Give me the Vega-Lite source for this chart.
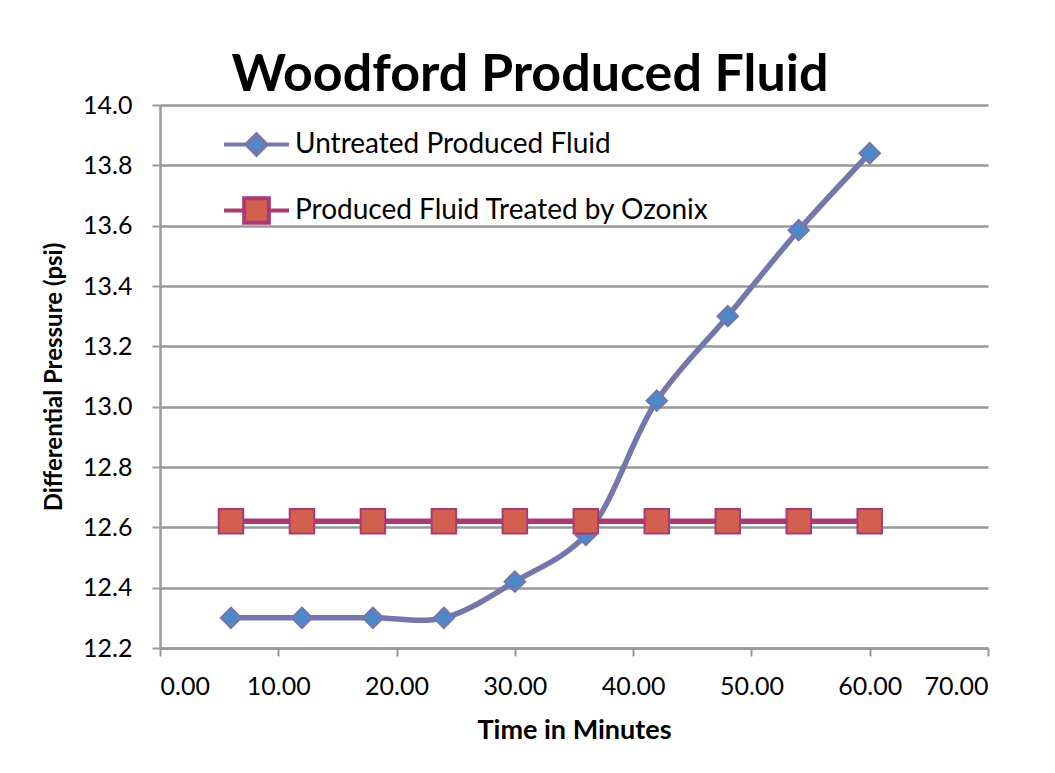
{
  "$schema": "https://vega.github.io/schema/vega-lite/v6.json",
  "width": 828,
  "height": 543,
  "autosize": {"type": "none"},
  "padding": {"left": 160, "top": 105, "right": 67, "bottom": 125},
  "background": "white",
  "title": {
    "text": "Woodford Produced Fluid",
    "font": "Lato",
    "fontSize": 52,
    "fontWeight": "bold",
    "color": "black",
    "anchor": "middle",
    "dx": -44,
    "offset": -9
  },
  "data": {
    "values": [
      {"t": 6, "p": 12.30, "series": "Untreated Produced Fluid"},
      {"t": 12, "p": 12.30, "series": "Untreated Produced Fluid"},
      {"t": 18, "p": 12.30, "series": "Untreated Produced Fluid"},
      {"t": 24, "p": 12.30, "series": "Untreated Produced Fluid"},
      {"t": 30, "p": 12.42, "series": "Untreated Produced Fluid"},
      {"t": 36, "p": 12.575, "series": "Untreated Produced Fluid"},
      {"t": 42, "p": 13.02, "series": "Untreated Produced Fluid"},
      {"t": 48, "p": 13.30, "series": "Untreated Produced Fluid"},
      {"t": 54, "p": 13.585, "series": "Untreated Produced Fluid"},
      {"t": 60, "p": 13.84, "series": "Untreated Produced Fluid"},
      {"t": 6, "p": 12.62, "series": "Produced Fluid Treated by Ozonix"},
      {"t": 12, "p": 12.62, "series": "Produced Fluid Treated by Ozonix"},
      {"t": 18, "p": 12.62, "series": "Produced Fluid Treated by Ozonix"},
      {"t": 24, "p": 12.62, "series": "Produced Fluid Treated by Ozonix"},
      {"t": 30, "p": 12.62, "series": "Produced Fluid Treated by Ozonix"},
      {"t": 36, "p": 12.62, "series": "Produced Fluid Treated by Ozonix"},
      {"t": 42, "p": 12.62, "series": "Produced Fluid Treated by Ozonix"},
      {"t": 48, "p": 12.62, "series": "Produced Fluid Treated by Ozonix"},
      {"t": 54, "p": 12.62, "series": "Produced Fluid Treated by Ozonix"},
      {"t": 60, "p": 12.62, "series": "Produced Fluid Treated by Ozonix"}
    ]
  },
  "encoding": {
    "x": {
      "field": "t", "type": "quantitative",
      "scale": {"domain": [0, 70], "nice": false, "zero": false},
      "axis": {
        "title": "Time in Minutes", "values": [0, 10, 20, 30, 40, 50, 60, 70],
        "format": ".2f", "grid": false,
        "labelFont": "Lato", "labelFontSize": 25, "labelColor": "black", "labelPadding": 18,
        "titleFont": "Lato", "titleFontSize": 27, "titleFontWeight": "bold", "titleColor": "black", "titlePadding": 18,
        "domainColor": "#999999", "domainWidth": 2.5, "tickColor": "#999999", "tickWidth": 2, "tickSize": 8
      }
    },
    "y": {
      "field": "p", "type": "quantitative",
      "scale": {"domain": [12.2, 14.0], "nice": false, "zero": false},
      "axis": {
        "title": "Differential Pressure (psi)", "values": [12.2, 12.4, 12.6, 12.8, 13.0, 13.2, 13.4, 13.6, 13.8, 14.0],
        "format": ".1f", "grid": true, "gridColor": "#999999", "gridWidth": 2.5,
        "labelFont": "Lato", "labelFontSize": 25, "labelColor": "black", "labelPadding": 20,
        "titleFont": "Lato", "titleFontSize": 24, "titleFontWeight": "bold", "titleColor": "black", "titlePadding": 16,
        "domainColor": "#999999", "domainWidth": 2.5, "tickColor": "#999999", "tickWidth": 2, "tickSize": 8
      }
    },
    "stroke": {
      "field": "series", "type": "nominal",
      "scale": {"domain": ["Untreated Produced Fluid", "Produced Fluid Treated by Ozonix"], "range": ["#7476AC", "#AA3A74"]}
    }
  },
  "layer": [
    {
      "mark": {"type": "line", "interpolate": "catmull-rom", "strokeWidth": 5.5},
      "encoding": {
        "detail": {"field": "series"}
      }
    },
    {
      "transform": [{"filter": "datum.series === 'Untreated Produced Fluid'"}],
      "mark": {"type": "point", "shape": "diamond", "size": 420, "filled": true, "opacity": 1, "strokeWidth": 2},
      "encoding": {
        "fill": {
          "field": "series", "type": "nominal",
          "scale": {"domain": ["Untreated Produced Fluid", "Produced Fluid Treated by Ozonix"], "range": ["#4F88C8", "#D1604F"]},
          "legend": {
            "title": null, "orient": "none", "legendX": 62, "legendY": 5, "padding": 0,
            "symbolSize": 4225, "symbolStrokeWidth": 4, "rowPadding": 13, "labelOffset": 4,
            "labelFont": "Lato", "labelFontSize": 28, "labelColor": "black", "labelLimit": 600,
            "symbolOpacity": 1,
            "encode": {
              "symbols": {
                "update": {
                  "shape": {"signal": "datum.value === 'Untreated Produced Fluid' ? 'M-1,0H-0.31M0.31,0H1M0,-0.31L0.31,0L0,0.31L-0.31,0Z' : 'M-1,0H-0.38M0.38,0H1M-0.38,-0.38H0.38V0.38H-0.38Z'"},
                  "stroke": {"signal": "datum.value === 'Untreated Produced Fluid' ? '#7476AC' : '#AA3A74'"},
                  "fill": {"signal": "datum.value === 'Untreated Produced Fluid' ? '#4F88C8' : '#D1604F'"},
                  "size": {"value": 4225},
                  "strokeWidth": {"value": 4},
                  "opacity": {"value": 1}
                }
              }
            }
          }
        }
      }
    },
    {
      "transform": [{"filter": "datum.series === 'Produced Fluid Treated by Ozonix'"}],
      "mark": {"type": "point", "shape": "square", "size": 600, "filled": true, "opacity": 1, "strokeWidth": 2},
      "encoding": {
        "fill": {"field": "series", "type": "nominal"}
      }
    }
  ],
  "config": {"view": {"stroke": null}}
}
